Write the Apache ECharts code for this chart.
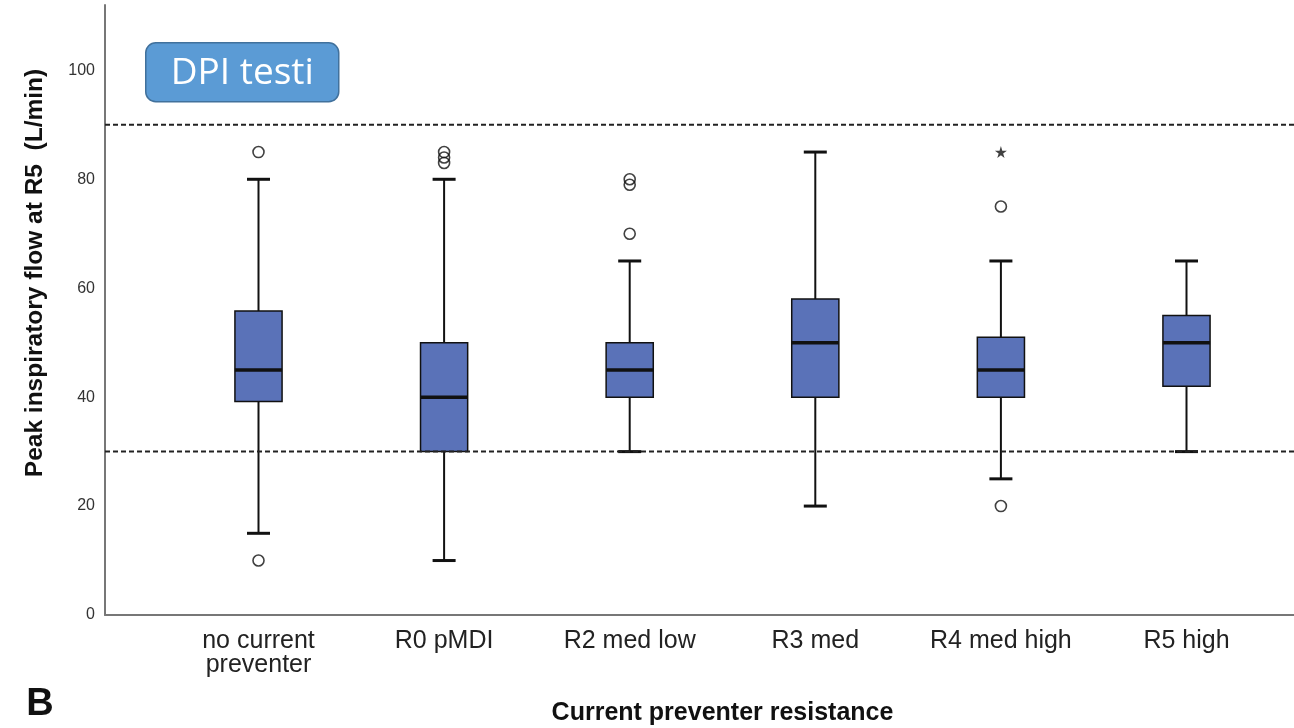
<!DOCTYPE html>
<html>
<head>
<meta charset="utf-8">
<script src="https://cdn.jsdelivr.net/npm/echarts@6/dist/echarts.min.js"></script>
<style>
html,body{margin:0;padding:0;background:#fff;}
#chart{width:1294px;height:728px;}
</style>
</head>
<body>
<div id="chart"></div>
<script>
// ---- data ----
const categories = ['no current\npreventer', 'R0 pMDI', 'R2 med low', 'R3 med', 'R4 med high', 'R5 high'];
const whiskerLow  = [15, 10, 30, 20, 25, 30];
const quartile1   = [39.2, 30, 40, 40, 40, 42];
const medians     = [45, 40, 45, 50, 45, 50];
const quartile3   = [55.8, 50, 50, 58, 51, 55];
const whiskerHigh = [80, 80, 65, 85, 65, 65];
const outliers = [[0, 10], [0, 85], [1, 83], [1, 84], [1, 85], [2, 70], [2, 79], [2, 80], [4, 20], [4, 75]];
const extremes = [[4, 85]];
const refLines = [90, 30];
const yTicks = [0, 20, 40, 60, 80, 100];
const yTitle = 'Peak inspiratory flow at R5  (L/min)';
const xTitle = 'Current preventer resistance';

const boxData = categories.map((c, i) => [i, whiskerLow[i], quartile1[i], medians[i], quartile3[i], whiskerHigh[i]]);

const FONT = '"Liberation Sans", Arial, sans-serif';
const BOX_FILL = '#5a72b8';
const INK = '#111';

function renderBox(params, api) {
  const i = api.value(0);
  const band = api.size([1, 0])[0];
  const half = band * 0.127;
  const cap = band * 0.062;
  const pLow = api.coord([i, api.value(1)]);
  const pQ1 = api.coord([i, api.value(2)]);
  const pMed = api.coord([i, api.value(3)]);
  const pQ3 = api.coord([i, api.value(4)]);
  const pHigh = api.coord([i, api.value(5)]);
  const x = pMed[0];
  const line = (x1, y1, x2, y2, w) => ({
    type: 'line', shape: {x1, y1, x2, y2}, style: {stroke: INK, lineWidth: w}
  });
  return {
    type: 'group',
    children: [
      line(x, pHigh[1], x, pQ3[1], 2),
      line(x, pQ1[1], x, pLow[1], 2),
      line(x - cap, pHigh[1], x + cap, pHigh[1], 3),
      line(x - cap, pLow[1], x + cap, pLow[1], 3),
      {type: 'rect', shape: {x: x - half, y: pQ3[1], width: half * 2, height: pQ1[1] - pQ3[1]},
       style: {fill: BOX_FILL, stroke: INK, lineWidth: 1.5}},
      line(x - half, pMed[1], x + half, pMed[1], 3.5)
    ]
  };
}

const chart = echarts.init(document.getElementById('chart'), null, {renderer: 'canvas'});
chart.setOption({
  animation: false,
  backgroundColor: '#fff',
  grid: [
    {left: 165.7, right: 14.7, top: 5, bottom: 113, containLabel: false, outerBoundsMode: 'none'},
    {left: 105, right: 0, top: 5, bottom: 113, containLabel: false, outerBoundsMode: 'none'}
  ],
  xAxis: [
    {
      type: 'category', gridIndex: 0, data: categories,
      axisLine: {show: false}, axisTick: {show: false}, splitLine: {show: false},
      axisLabel: {fontFamily: FONT, fontSize: 25, color: '#222', margin: 14, lineHeight: 24, interval: 0},
      name: xTitle, nameLocation: 'middle', nameGap: 86,
      nameTextStyle: {fontFamily: FONT, fontSize: 25, fontWeight: 'bold', color: '#111'}
    },
    {
      type: 'value', gridIndex: 1, min: 0, max: 1,
      axisLine: {show: true, onZero: false, lineStyle: {color: '#777', width: 2}},
      axisTick: {show: false}, axisLabel: {show: false}, splitLine: {show: false}
    }
  ],
  yAxis: [
    {
      type: 'value', gridIndex: 0, min: 0, max: 112, interval: 20,
      show: false, splitLine: {show: false}
    },
    {
      type: 'value', gridIndex: 1, min: 0, max: 112, interval: 20,
      axisLine: {show: true, lineStyle: {color: '#777', width: 2}},
      axisTick: {show: false}, splitLine: {show: false},
      axisLabel: {
        fontFamily: FONT, fontSize: 16, color: '#333', margin: 10, showMaxLabel: false,
        formatter: v => (yTicks.indexOf(v) >= 0 ? String(v) : '')
      }
    }
  ],
  series: [
    ...refLines.map(v => ({
      type: 'line', xAxisIndex: 1, yAxisIndex: 1, symbol: 'none', silent: true,
      data: [[0, v], [1, v]],
      lineStyle: {color: '#222', width: 2, type: [5, 3]}
    })),
    {
      type: 'custom', xAxisIndex: 0, yAxisIndex: 0,
      renderItem: renderBox, data: boxData, z: 3
    },
    {
      type: 'scatter', xAxisIndex: 0, yAxisIndex: 0, data: outliers,
      symbol: 'circle', symbolSize: 11, z: 4,
      itemStyle: {color: 'rgba(255,255,255,0)', borderColor: INK, borderWidth: 1.6}
    },
    {
      type: 'scatter', xAxisIndex: 0, yAxisIndex: 0, data: extremes,
      symbol: 'path://M50,0 L61,35 L98,35 L68,57 L79,91 L50,70 L21,91 L32,57 L2,35 L39,35 Z',
      symbolSize: 12, z: 4,
      itemStyle: {color: INK}
    }
  ],
  graphic: [
    {
      type: 'group', left: 145, top: 42,
      children: [
        {type: 'rect', shape: {x: 0, y: 0, width: 193, height: 59, r: 10},
         style: {fill: '#5b9bd5', stroke: '#41719c', lineWidth: 1.5}},
        {type: 'text', x: 96.5, y: 31,
         style: {text: 'DPI testi', fill: '#fff', font: '37px "Open Sans", sans-serif',
                 align: 'center', verticalAlign: 'middle', textAlign: 'center', textVerticalAlign: 'middle'}}
      ]
    },
    {
      type: 'text', x: 35, y: 273, rotation: Math.PI / 2,
      style: {text: yTitle, fill: '#111', font: 'bold 24.5px ' + FONT,
              align: 'center', verticalAlign: 'middle', textAlign: 'center', textVerticalAlign: 'middle'}
    },
    {
      type: 'text', x: 40, y: 705,
      style: {text: 'B', fill: '#111', font: 'bold 38px ' + FONT,
              align: 'center', verticalAlign: 'middle', textAlign: 'center', textVerticalAlign: 'middle'}
    }
  ]
});
</script>
</body>
</html>
